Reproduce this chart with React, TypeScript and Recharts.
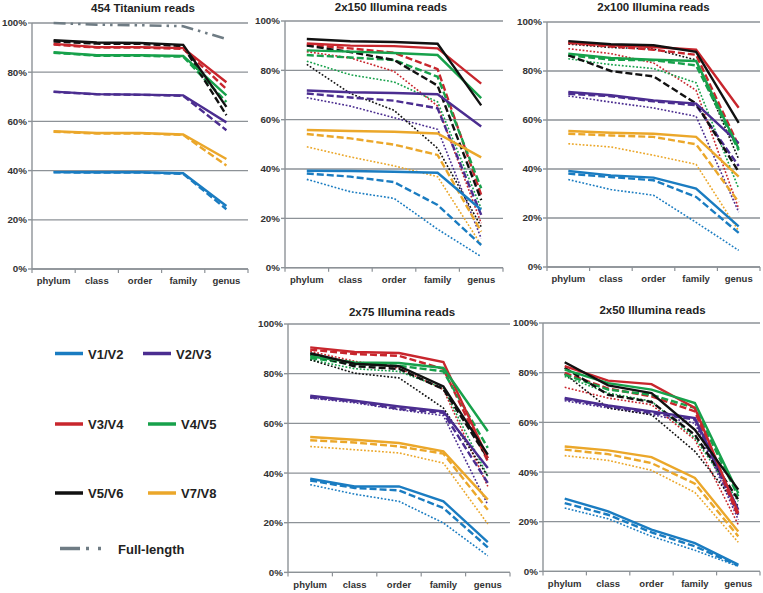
import React from 'react';
import { LineChart, Line, XAxis, YAxis, CartesianGrid } from 'recharts';

const ranks = ['phylum', 'class', 'order', 'family', 'genus'];
const regions = ['V1/V2', 'V2/V3', 'V3/V4', 'V4/V5', 'V5/V6', 'V7/V8'];
const yTicks = [0, 20, 40, 60, 80, 100];

// rows follow the order of `regions`, columns follow `ranks`
const ti454Solid = [
  [39.4, 39.3, 39.3, 38.9, 25.6],
  [72.1, 71.1, 70.9, 70.6, 59.6],
  [91.5, 90.2, 90.2, 89.8, 75.9],
  [88.1, 86.9, 86.9, 86.6, 70.6],
  [93.0, 92.1, 91.9, 91.1, 65.9],
  [56.0, 55.3, 55.3, 54.7, 44.7],
];
const ti454Dashed = [
  [39.3, 39.2, 39.2, 38.7, 24.3],
  [72.0, 71.0, 70.8, 70.4, 56.4],
  [91.2, 90.0, 90.0, 89.5, 73.2],
  [87.9, 86.7, 86.7, 86.3, 67.9],
  [92.5, 91.6, 91.5, 90.6, 62.5],
  [55.8, 55.1, 55.1, 54.5, 42.1],
];
const fullLength = [100, 99.3, 99.1, 98.7, 93.5];

const il150Solid = [
  [39.3, 39.2, 38.9, 38.5, 23.5],
  [71.8, 71.1, 70.8, 70.3, 57.2],
  [90.9, 90.0, 89.8, 88.9, 74.6],
  [88.1, 87.6, 87.0, 86.2, 68.7],
  [92.7, 91.8, 91.5, 90.8, 65.8],
  [55.8, 55.4, 55.1, 54.4, 44.7],
];
const il150Dashed = [
  [38.2, 36.9, 34.7, 25.4, 9.2],
  [70.6, 69.0, 67.7, 64.6, 21.4],
  [90.3, 88.9, 87.1, 80.5, 29.5],
  [86.2, 85.2, 84.2, 77.4, 32.2],
  [90.0, 87.4, 84.2, 73.8, 27.4],
  [54.2, 52.4, 49.9, 45.7, 14.6],
];
const il150Dotted = [
  [35.8, 30.8, 28.1, 15.6, 4.5],
  [68.9, 65.5, 60.8, 56.1, 11.9],
  [87.6, 85.0, 79.6, 65.5, 18.0],
  [83.7, 78.2, 75.3, 67.2, 24.0],
  [82.4, 70.6, 63.8, 48.4, 16.6],
  [49.0, 44.9, 41.3, 36.9, 9.2],
];

const il100Solid = [
  [39.2, 37.4, 36.5, 32.0, 16.6],
  [71.4, 70.1, 68.0, 66.7, 50.6],
  [91.6, 90.5, 89.8, 88.7, 65.0],
  [87.1, 85.3, 84.6, 84.1, 48.3],
  [92.2, 90.9, 90.5, 87.8, 58.8],
  [55.5, 54.8, 54.4, 53.1, 36.9],
];
const il100Dashed = [
  [38.1, 36.7, 35.4, 28.6, 13.9],
  [70.7, 69.7, 67.6, 66.0, 41.2],
  [91.4, 90.0, 88.7, 86.6, 49.4],
  [86.4, 84.6, 84.4, 82.3, 47.6],
  [86.4, 80.0, 77.8, 66.7, 38.8],
  [54.4, 53.7, 53.1, 50.1, 26.5],
];
const il100Dotted = [
  [35.7, 31.6, 29.3, 18.2, 6.8],
  [69.8, 67.3, 64.9, 61.5, 22.4],
  [89.1, 87.1, 83.3, 72.1, 23.8],
  [85.0, 82.6, 81.0, 75.2, 32.0],
  [91.0, 89.6, 89.0, 84.5, 44.0],
  [50.3, 49.0, 45.6, 41.9, 14.7],
];

const il75Solid = [
  [37.7, 34.6, 34.6, 28.6, 12.2],
  [71.1, 69.1, 66.8, 64.8, 42.0],
  [90.6, 88.7, 88.3, 84.7, 46.0],
  [87.0, 84.5, 84.3, 82.3, 56.8],
  [88.3, 84.0, 83.0, 74.9, 47.4],
  [54.5, 53.4, 52.1, 48.7, 29.3],
];
const il75Dashed = [
  [37.0, 34.0, 33.0, 25.9, 10.1],
  [70.5, 68.8, 65.8, 64.2, 36.0],
  [89.7, 87.9, 87.2, 81.9, 44.7],
  [86.3, 83.8, 83.2, 80.9, 50.1],
  [87.7, 83.0, 81.9, 73.8, 46.0],
  [53.2, 52.3, 50.7, 47.8, 25.2],
];
const il75Dotted = [
  [35.3, 31.5, 28.6, 19.9, 6.7],
  [70.2, 68.3, 65.5, 63.1, 27.2],
  [89.0, 85.0, 82.3, 73.6, 34.6],
  [85.6, 82.0, 80.9, 74.2, 38.7],
  [85.6, 80.2, 78.3, 66.2, 38.7],
  [50.7, 49.4, 48.1, 44.0, 19.5],
];

const il50Solid = [
  [29.3, 24.2, 16.8, 11.4, 2.7],
  [69.8, 66.8, 64.4, 61.7, 24.8],
  [82.6, 76.8, 75.4, 65.8, 23.5],
  [81.2, 75.8, 73.2, 67.8, 31.5],
  [84.2, 74.9, 71.8, 57.0, 32.9],
  [50.3, 48.7, 46.0, 37.6, 16.1],
];
const il50Dashed = [
  [27.5, 22.8, 15.7, 10.1, 2.3],
  [69.4, 66.4, 63.8, 61.1, 22.8],
  [79.9, 73.6, 70.5, 64.4, 22.1],
  [79.2, 73.2, 71.1, 65.8, 30.2],
  [82.0, 71.1, 68.2, 55.0, 28.9],
  [49.0, 47.2, 43.6, 35.3, 14.1],
];
const il50Dotted = [
  [25.5, 21.2, 14.1, 8.5, 2.0],
  [68.7, 65.8, 63.1, 59.7, 20.8],
  [74.1, 69.8, 67.1, 53.0, 18.8],
  [78.5, 71.8, 68.5, 53.7, 28.2],
  [79.5, 65.8, 63.1, 48.3, 26.2],
  [46.6, 44.7, 40.7, 31.8, 11.7],
];

const colors = ['#1a7cc1', '#4b2d90', '#c8262d', '#17a14b', '#111111', '#eba72a'];
const fullColor = '#6f7c84';
const axisGray = '#8d9297';
const font = '"Liberation Sans", Arial, sans-serif';

const lineStyles: Record<string, { w: number; dash?: string }> = {
  s: { w: 2.4 },
  d: { w: 2.4, dash: '7 3' },
  t: { w: 1.6, dash: '1.8 1.8' },
};

type Box = { x: number; y: number; w: number; h: number };

const RankTick = (props: any) => {
  const { x, y, payload, index, visibleTicksCount, band } = props;
  const axisY = y - 8.5;
  return (
    <g>
      <line x1={x - band / 2} y1={axisY} x2={x - band / 2} y2={axisY + 4} stroke={axisGray} strokeWidth={1.2} />
      {index === visibleTicksCount - 1 && (
        <line x1={x + band / 2} y1={axisY} x2={x + band / 2} y2={axisY + 4} stroke={axisGray} strokeWidth={1.2} />
      )}
      <text x={x} y={y} dy="0.71em" textAnchor="middle" fill="#333" fontSize={9.5} fontWeight="bold" fontFamily={font}>
        {payload.value}
      </text>
    </g>
  );
};

const Panel = ({
  title, titleX, titleY, box, sets, full,
}: {
  title: string; titleX: number; titleY: number; box: Box;
  sets: { key: string; rows: number[][] }[]; full?: number[];
}) => {
  const data = ranks.map((rank, i) => {
    const row: Record<string, any> = { rank };
    sets.forEach((s) => s.rows.forEach((r, j) => { row[s.key + j] = r[i]; }));
    if (full) row.full = full[i];
    return row;
  });
  const band = box.w / ranks.length;
  return (
    <>
      <div style={{
        position: 'absolute', left: titleX - 100, top: titleY - 7, width: 200, height: 14,
        textAlign: 'center', font: `bold 11.5px ${font}`, lineHeight: '14px', color: '#222',
      }}>{title}</div>
      <div style={{ position: 'absolute', left: box.x - 40, top: box.y - 8 }}>
        <LineChart width={40 + box.w + 4} height={8 + box.h + 30} data={data}
          margin={{ top: 8, right: 4, bottom: 0, left: 0 }}>
          <CartesianGrid vertical={false} stroke={axisGray} strokeWidth={1.3} horizontalValues={yTicks} />
          <XAxis dataKey="rank" height={30} stroke={axisGray} strokeWidth={1.4}
            padding={{ left: band / 2, right: band / 2 }}
            tickLine={false} tickSize={4} tickMargin={4.5}
            tick={(p: any) => <RankTick {...p} band={band} />} interval={0} />
          <YAxis width={40} domain={[0, 100]} ticks={yTicks} stroke={axisGray} strokeWidth={1.4}
            tickSize={4} tickMargin={1} tickFormatter={(v: number) => `${v}%`}
            tick={{ fill: '#333', fontSize: 9.8, fontWeight: 'bold', fontFamily: font }} />
          {[...sets].reverse().map((s) =>
            s.rows.map((_, j) => (
              <Line key={s.key + j} dataKey={s.key + j} name={`${regions[j]} ${s.key}`}
                stroke={colors[j]} strokeWidth={lineStyles[s.key].w}
                strokeDasharray={lineStyles[s.key].dash} dot={false} activeDot={false}
                isAnimationActive={false} />
            )))}
          {full && (
            <Line dataKey="full" name="Full-length" stroke={fullColor} strokeWidth={2.6}
              strokeDasharray="12 5 2.5 5 2.5 5" dot={false} isAnimationActive={false} />
          )}
        </LineChart>
      </div>
    </>
  );
};

const legendRows = [
  { y: 353.5, items: [{ i: 0, x: 55, tx: 88 }, { i: 1, x: 143, tx: 176 }] },
  { y: 424, items: [{ i: 2, x: 55, tx: 88 }, { i: 3, x: 148, tx: 181 }] },
  { y: 493, items: [{ i: 4, x: 55, tx: 88 }, { i: 5, x: 148, tx: 181 }] },
];

const Legend = () => (
  <svg width={255} height={593} style={{ position: 'absolute', left: 0, top: 0 }}>
    {legendRows.map((r) => r.items.map((it) => (
      <g key={it.i}>
        <line x1={it.x} x2={it.x + 28} y1={r.y} y2={r.y} stroke={colors[it.i]} strokeWidth={3.5} />
        <text x={it.tx} y={r.y + 5} fontSize={13} fontWeight="bold" fontFamily={font} fill="#222">
          {regions[it.i]}
        </text>
      </g>
    )))}
    <line x1={60} x2={80} y1={548.5} y2={548.5} stroke={fullColor} strokeWidth={3.5} />
    <line x1={86} x2={89} y1={548.5} y2={548.5} stroke={fullColor} strokeWidth={3.5} />
    <line x1={98} x2={101} y1={548.5} y2={548.5} stroke={fullColor} strokeWidth={3.5} />
    <text x={118} y={553.5} fontSize={13} fontWeight="bold" fontFamily={font} fill="#222">Full-length</text>
  </svg>
);

export default function App() {
  return (
    <div style={{ position: 'fixed', left: 0, top: 0, width: 763, height: 593, background: '#fff' }}>
      <Panel title="454 Titanium reads" titleX={143} titleY={7.5}
        box={{ x: 31.5, y: 22.7, w: 216, h: 246 }}
        sets={[{ key: 's', rows: ti454Solid }, { key: 'd', rows: ti454Dashed }]} full={fullLength} />
      <Panel title="2x150 Illumina reads" titleX={391} titleY={7}
        box={{ x: 285, y: 21, w: 218, h: 246.7 }}
        sets={[{ key: 's', rows: il150Solid }, { key: 'd', rows: il150Dashed }, { key: 't', rows: il150Dotted }]} />
      <Panel title="2x100 Illumina reads" titleX={653.5} titleY={7}
        box={{ x: 546.5, y: 21.7, w: 213, h: 245 }}
        sets={[{ key: 's', rows: il100Solid }, { key: 'd', rows: il100Dashed }, { key: 't', rows: il100Dotted }]} />
      <Panel title="2x75 Illumina reads" titleX={402} titleY={312.3}
        box={{ x: 288, y: 324.3, w: 222, h: 248.4 }}
        sets={[{ key: 's', rows: il75Solid }, { key: 'd', rows: il75Dashed }, { key: 't', rows: il75Dotted }]} />
      <Panel title="2x50 Illumina reads" titleX={652.5} titleY={310.3}
        box={{ x: 543, y: 323.3, w: 217, h: 248.4 }}
        sets={[{ key: 's', rows: il50Solid }, { key: 'd', rows: il50Dashed }, { key: 't', rows: il50Dotted }]} />
      <Legend />
    </div>
  );
}
